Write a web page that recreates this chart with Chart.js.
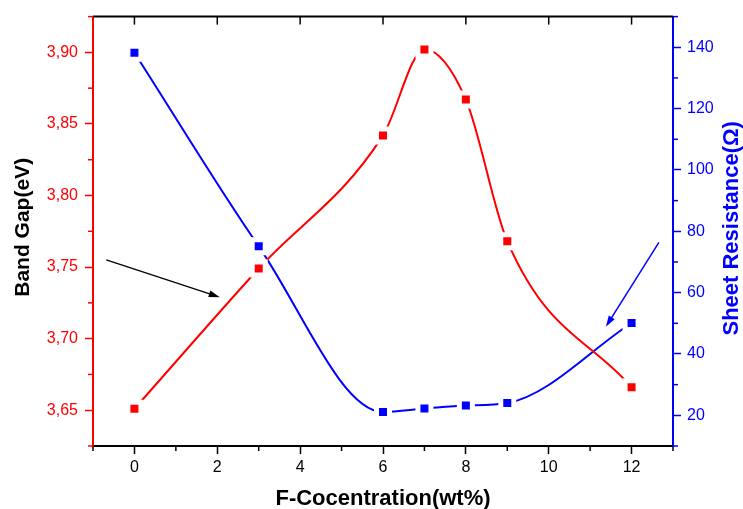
<!DOCTYPE html>
<html>
<head>
<meta charset="utf-8">
<script src="https://cdn.jsdelivr.net/npm/chart.js@4.4.1/dist/chart.umd.min.js"></script>
<style>
  html, body { margin: 0; padding: 0; background: #fff; }
</style>
</head>
<body>
<canvas id="chart" width="743" height="509"></canvas>
<script>
// F concentration (wt%)
const concentration = [0, 3, 6, 7, 8, 9, 12];
// band gap (eV), left axis
const bandGap = [3.651, 3.749, 3.842, 3.902, 3.867, 3.768, 3.666];
// sheet resistance (ohm), right axis
const resistance = [138.2, 75.1, 21.1, 22.2, 23.2, 24.0, 50.1];

const xTicks = [0, 2, 4, 6, 8, 10, 12];
const xMinor = [-1, 1, 3, 5, 7, 9, 11, 13];
const gapTicks = [3.65, 3.70, 3.75, 3.80, 3.85, 3.90];
const gapMinor = [3.625, 3.675, 3.725, 3.775, 3.825, 3.875, 3.925];
const resTicks = [20, 40, 60, 80, 100, 120, 140];
const resMinor = [10, 30, 50, 70, 90, 110, 130, 150];

// arrows pointing each curve to its axis: [x0, y0, x1, y1]
const gapArrow = [-0.68, 3.755, 2.06, 3.729];
const resArrow = [12.66, 76.4, 11.38, 48.9];

const RED = '#ff0000';
const BLUE = '#0000ff';
const FONT = "'Liberation Sans', Arial, sans-serif";

function toPoints(ys) {
    return concentration.map((x, i) => ({ x: x, y: ys[i] }));
}

function line(ctx, x0, y0, x1, y1) {
    ctx.beginPath();
    ctx.moveTo(x0, y0);
    ctx.lineTo(x1, y1);
    ctx.stroke();
}

function arrow(ctx, x0, y0, x1, y1, color, width) {
    const ang = Math.atan2(y1 - y0, x1 - x0);
    const len = 11, half = 3.5;
    ctx.strokeStyle = color;
    ctx.fillStyle = color;
    ctx.lineWidth = width;
    line(ctx, x0, y0, x1 - Math.cos(ang) * (len - 2), y1 - Math.sin(ang) * (len - 2));
    ctx.beginPath();
    ctx.moveTo(x1, y1);
    ctx.lineTo(x1 - Math.cos(ang) * len - Math.sin(ang) * half, y1 - Math.sin(ang) * len + Math.cos(ang) * half);
    ctx.lineTo(x1 - Math.cos(ang) * len + Math.sin(ang) * half, y1 - Math.sin(ang) * len - Math.cos(ang) * half);
    ctx.closePath();
    ctx.fill();
}

// frame top, minor ticks, arrows and axis titles
const decorations = {
    id: 'decorations',
    afterDraw(chart) {
        const { ctx, chartArea: a, scales } = chart;
        const x = scales.x, yl = scales.yGap, yr = scales.yRes;
        ctx.save();
        ctx.lineCap = 'butt';

        ctx.strokeStyle = '#000';
        ctx.lineWidth = 2;
        line(ctx, a.left, a.top, a.right, a.top);
        ctx.lineWidth = 1.5;
        xTicks.forEach(v => {
            const px = x.getPixelForValue(v);
            line(ctx, px, a.top, px, a.top + 8);
        });
        xMinor.forEach(v => {
            const px = x.getPixelForValue(v);
            line(ctx, px, a.bottom, px, a.bottom + 5);
        });
        ctx.strokeStyle = RED;
        gapMinor.forEach(v => {
            const py = yl.getPixelForValue(v);
            line(ctx, a.left - 5, py, a.left, py);
        });
        ctx.strokeStyle = BLUE;
        resMinor.forEach(v => {
            const py = yr.getPixelForValue(v);
            line(ctx, a.right, py, a.right + 5, py);
        });

        arrow(ctx, x.getPixelForValue(gapArrow[0]), yl.getPixelForValue(gapArrow[1]),
              x.getPixelForValue(gapArrow[2]), yl.getPixelForValue(gapArrow[3]), '#000', 1.3);
        arrow(ctx, x.getPixelForValue(resArrow[0]), yr.getPixelForValue(resArrow[1]),
              x.getPixelForValue(resArrow[2]), yr.getPixelForValue(resArrow[3]), BLUE, 1.5);

        ctx.textAlign = 'center';
        ctx.textBaseline = 'alphabetic';
        ctx.fillStyle = '#000';
        ctx.font = 'bold 22px ' + FONT;
        ctx.fillText('F-Cocentration(wt%)', (a.left + a.right) / 2, chart.height - 4);

        ctx.save();
        ctx.translate(29, (a.top + a.bottom) / 2 - 4);
        ctx.rotate(-Math.PI / 2);
        ctx.font = 'bold 21px ' + FONT;
        ctx.fillText('Band Gap(eV)', 0, 0);
        ctx.restore();

        ctx.save();
        ctx.translate(738, (a.top + a.bottom) / 2 - 3);
        ctx.rotate(-Math.PI / 2);
        ctx.fillStyle = BLUE;
        ctx.font = 'bold 22px ' + FONT;
        ctx.fillText('Sheet Resistance(\u03A9)', 0, 0);
        ctx.restore();

        ctx.restore();
    }
};

const markers = {
    pointStyle: 'rect',
    pointRadius: 9.2,
    pointHoverRadius: 9.2,
    pointBorderColor: '#fff',
    pointBorderWidth: 5,
    borderWidth: 2,
    cubicInterpolationMode: 'monotone',
    fill: false
};

const ctx = document.getElementById('chart').getContext('2d');
const chart = new Chart(ctx, {
    type: 'line',
    data: {
        datasets: [
            Object.assign({
                label: 'Band Gap',
                data: toPoints(bandGap),
                yAxisID: 'yGap',
                borderColor: RED,
                pointBackgroundColor: RED
            }, markers),
            Object.assign({
                label: 'Sheet Resistance',
                data: toPoints(resistance),
                yAxisID: 'yRes',
                borderColor: BLUE,
                pointBackgroundColor: BLUE
            }, markers)
        ]
    },
    options: {
        responsive: false,
        animation: false,
        devicePixelRatio: 1,
        layout: { padding: { top: 14, left: 0, right: 0, bottom: 0 } },
        plugins: {
            legend: { display: false },
            tooltip: { enabled: false }
        },
        scales: {
            x: {
                type: 'linear',
                position: 'bottom',
                min: -1,
                max: 13,
                afterBuildTicks: s => { s.ticks = xTicks.map(v => ({ value: v })); },
                afterFit: s => { s.height = 63; },
                grid: { drawOnChartArea: false, tickLength: 8, tickColor: '#000', tickWidth: 1.5 },
                border: { color: '#000', width: 2 },
                ticks: { color: '#000', font: { family: FONT, size: 16 }, padding: 4, maxRotation: 0 }
            },
            yGap: {
                type: 'linear',
                position: 'left',
                min: 3.625,
                max: 3.925,
                afterBuildTicks: s => { s.ticks = gapTicks.map(v => ({ value: v })); },
                afterFit: s => { s.width = 93; },
                grid: { drawOnChartArea: false, tickLength: 8, tickColor: RED, tickWidth: 1.5 },
                border: { color: RED, width: 2 },
                ticks: {
                    color: RED,
                    font: { family: FONT, size: 16 },
                    padding: 7,
                    callback: v => v.toFixed(2).replace('.', ',')
                }
            },
            yRes: {
                type: 'linear',
                position: 'right',
                min: 10,
                max: 150,
                afterBuildTicks: s => { s.ticks = resTicks.map(v => ({ value: v })); },
                afterFit: s => { s.width = 70; },
                grid: { drawOnChartArea: false, tickLength: 8, tickColor: BLUE, tickWidth: 1.5 },
                border: { color: BLUE, width: 2 },
                ticks: { color: BLUE, font: { family: FONT, size: 16 }, padding: 6 }
            }
        }
    },
    plugins: [decorations]
});
</script>
</body>
</html>
